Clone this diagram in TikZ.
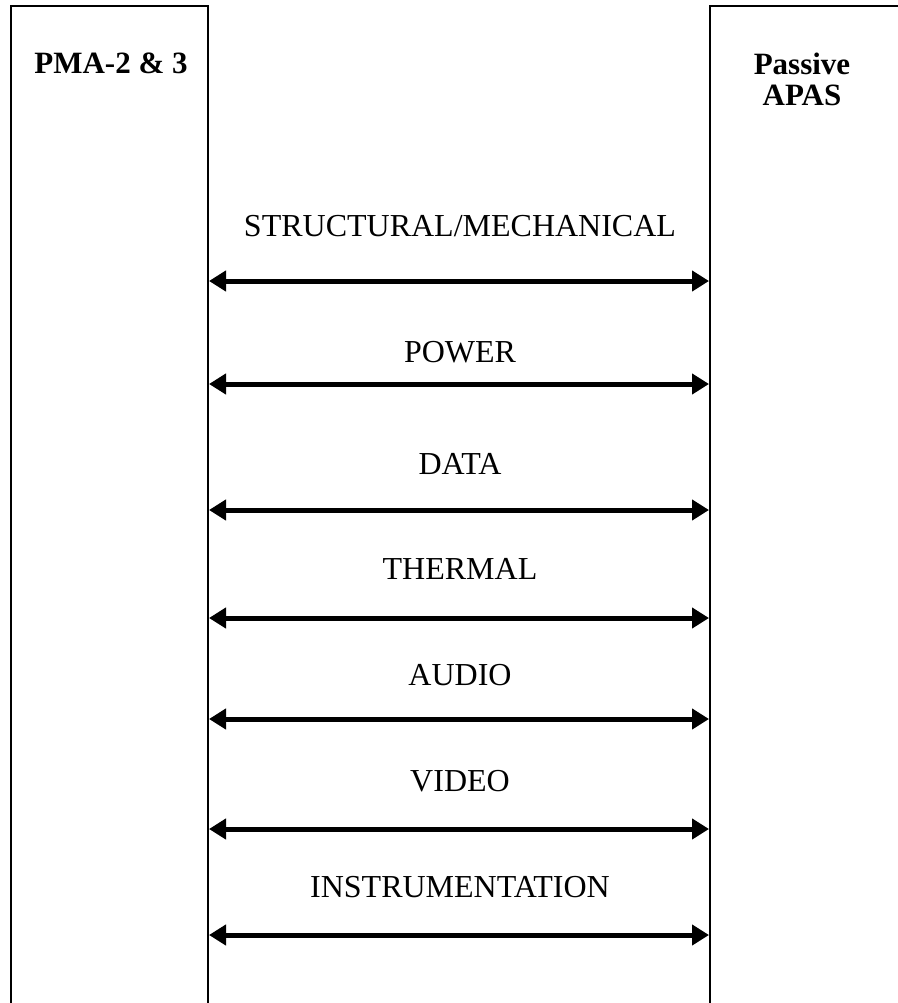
\documentclass[tikz,border=0pt]{standalone}
\usepackage{fontspec}
\setmainfont{Liberation Serif}
\usetikzlibrary{arrows.meta}
\begin{document}
\begin{tikzpicture}[x=1pt,y=-1pt,
  boxside/.style={draw, line width=2pt, rectangle, anchor=north west, inner sep=0pt},
  link/.style={line width=5pt, {Triangle[length=17pt,width=20pt]}-{Triangle[length=17pt,width=20pt]}},
  lbl/.style={font=\fontsize{32}{32}\selectfont, anchor=base, inner sep=0pt},
  ttl/.style={font=\bfseries\fontsize{31}{30}\selectfont, align=center, inner sep=0pt}]
\useasboundingbox (0,0) rectangle (897,1003);
\node[boxside, minimum width=197.5pt, minimum height=1010pt] (L) at (9.5,5) {};
\node[boxside, minimum width=200pt, minimum height=1010pt] (R) at (709,5) {};
\node[ttl, anchor=base] (Lt) at (111,74) {PMA-2 \& 3};
\node[ttl, anchor=base] (Rt1) at (802,75) {Passive};
\node[ttl, anchor=base] (Rt2) at (802,106) {APAS};
\foreach \n/\t/\ty/\ay in {a/STRUCTURAL\slash MECHANICAL/236/281, b/POWER/362/384, c/DATA/474/510, d/THERMAL/579/618, e/AUDIO/685/719, f/VIDEO/791/829, g/INSTRUMENTATION/897/935}{
  \node[lbl] (t\n) at (460,\ty) {\t};
  \coordinate (l\n) at (L.east |- 0,\ay);
  \coordinate (r\n) at (R.west |- 0,\ay);
  \draw[link] (l\n) -- (r\n);
}
\end{tikzpicture}
\end{document}
